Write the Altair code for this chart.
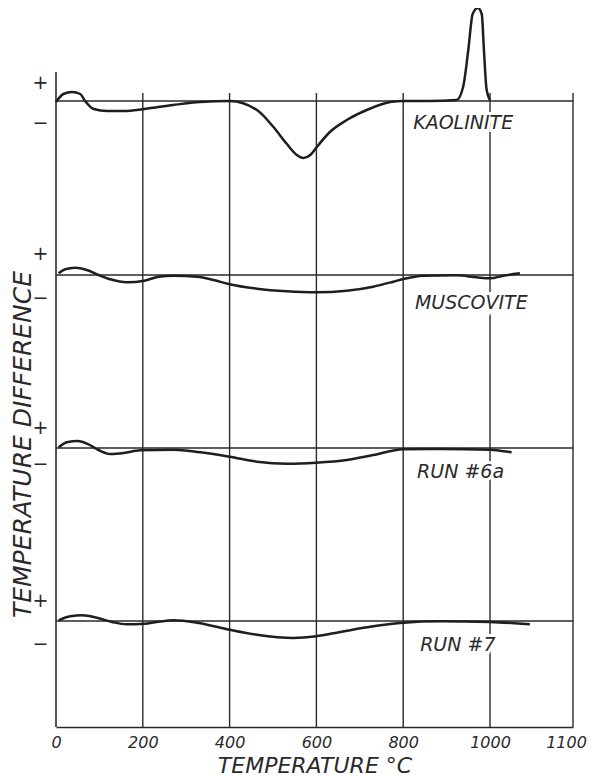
import altair as alt
import pandas as pd

# ---------------- data ----------------
curve_names = ["KAOLINITE", "MUSCOVITE", "RUN #6a", "RUN #7"]
# vertical position (arbitrary units) of each curve's zero line
baselines = [626, 452, 279, 106]

kaolinite_t = [0, 17, 37, 56, 67, 87, 117, 156, 204, 270, 332, 400, 463, 501, 532, 555, 570,
               586, 601, 631, 670, 716, 770, 800, 860, 923, 938, 950, 960, 972, 981, 986, 992, 1000]
kaolinite_d = [-1, 7, 9, 7, 0, -8, -10, -10, -8, -4, -1, 0, -9, -26, -43, -54, -57,
               -54, -46, -31, -19, -9, -1, 0, 0, 1, 14, 51, 87, 93, 87, 51, 12, 1]

muscovite_t = [6, 21, 44, 71, 98, 125, 163, 204, 236, 271, 325, 363, 400, 463, 532, 599, 670,
               731, 777, 800, 846, 923, 969, 1000, 1016, 1036]
muscovite_d = [1.7, 5.7, 7.3, 5, 0, -4.3, -7.3, -5.7, -1.7, -0.7, -1.7, -5, -9.3, -13.7, -16.3,
               -17.3, -15.7, -11.7, -6.7, -4, -0.7, -0.3, -2.3, -3.3, -0.7, 1.7]

run6a_t = [6, 25, 50, 75, 98, 125, 156, 194, 271, 332, 400, 463, 532, 599, 670, 731, 800, 885,
           1000, 1026]
run6a_d = [0.7, 5.7, 7, 3.7, -2, -6, -5, -2.3, -1.7, -4.3, -8.7, -13.7, -15.7, -14.7, -12, -7,
           -1.3, -1, -1.7, -4.3]

run7_t = [6, 33, 60, 94, 129, 163, 204, 232, 271, 325, 400, 463, 547, 599, 655, 731, 800, 885,
          1000, 1048]
run7_d = [0.7, 4.7, 5.7, 3.3, -1, -3.3, -2.7, -1, 0.7, -1.7, -8.7, -13.7, -17, -15.3, -11,
          -5.3, -1.7, -0.3, -1, -3.3]

# label anchors (temperature, offset below the zero line)
label_t = [823, 827, 832, 839]
label_d = [-22, -28, -24, -24]

# "+" / "-" marks on the left side
plus_marks = [645, 474, 300, 127]
minus_marks = [605, 430, 264, 84]

tick_values = [0, 200, 400, 600, 800, 1000, 1100]
grid_values = [200, 400, 600, 800, 1000, 1100]
grid_top = 634
frame_top = 655

# ---------------- tables ----------------
series = [(kaolinite_t, kaolinite_d), (muscovite_t, muscovite_d),
          (run6a_t, run6a_d), (run7_t, run7_d)]
rows = []
for name, base, (ts, ds) in zip(curve_names, baselines, series):
    for t, d in zip(ts, ds):
        rows.append({"curve": name, "T": t, "v": base + d})
curves = pd.DataFrame(rows)

base_df = pd.DataFrame({"curve": curve_names, "v": baselines})
labels_df = pd.DataFrame({"curve": curve_names,
                          "T": label_t,
                          "v": [b + d for b, d in zip(baselines, label_d)]})
grid_df = pd.DataFrame({"T": grid_values})

INK = "#2a2a2a"
FONT = "DejaVu Sans"

xs = alt.Scale(domain=[0, 1000, 1100], range=[0, 434, 517], nice=False, zero=False)
ys = alt.Scale(domain=[0, 719], nice=False, zero=False)

plus_js = ",".join(str(v) for v in plus_marks)
xaxis = alt.Axis(values=tick_values, format="d", title="TEMPERATURE °C", ticks=False,
                 grid=False, domain=True, domainColor=INK, domainWidth=1.6,
                 labelFont=FONT, labelFontStyle="italic", labelFontSize=16, labelColor=INK,
                 labelPadding=7, labelFlush=False, labelOverlap=False,
                 labelOffset={"condition": {"test": "datum.value == 1100", "value": -7},
                              "value": 0},
                 titleFont=FONT, titleFontStyle="italic", titleFontWeight="normal",
                 titleFontSize=22, titleColor=INK, titlePadding=5)
yaxis = alt.Axis(values=plus_marks + minus_marks, title="TEMPERATURE DIFFERENCE",
                 ticks=False, grid=False, domain=False,
                 labelExpr=f"indexof([{plus_js}], datum.value) >= 0 ? '+' : '−'",
                 labelFont=FONT, labelFontSize=19, labelColor=INK, labelPadding=8,
                 titleFont=FONT, titleFontStyle="italic", titleFontWeight="normal",
                 titleFontSize=25, titleColor=INK, titleAngle=270,
                 titleX=-34, titleY=436, titleAlign="center", titleBaseline="middle")

grid = alt.Chart(grid_df).mark_rule(color=INK, strokeWidth=1.4).encode(
    x=alt.X("T:Q", scale=xs, axis=xaxis),
    y=alt.Y(datum=grid_top, scale=ys, axis=yaxis),
    y2=alt.Y2(datum=0),
)

frame = alt.Chart(pd.DataFrame({"T": [0]})).mark_rule(color=INK, strokeWidth=1.6).encode(
    x=alt.X("T:Q", scale=xs, axis=xaxis),
    y=alt.Y(datum=frame_top, scale=ys, axis=yaxis),
    y2=alt.Y2(datum=0),
)

zero_lines = alt.Chart(base_df).mark_rule(color=INK, strokeWidth=1.4).encode(
    x=alt.X(datum=0, scale=xs, axis=xaxis),
    x2=alt.X2(datum=1100),
    y=alt.Y("v:Q", scale=ys, axis=yaxis),
)

lines = alt.Chart(curves).mark_line(color="#1e1e1e", strokeWidth=2.5,
                                    interpolate="monotone").encode(
    x=alt.X("T:Q", scale=xs, axis=xaxis),
    y=alt.Y("v:Q", scale=ys, axis=yaxis),
    detail="curve:N",
)

halo = alt.Chart(labels_df).mark_text(align="left", baseline="middle", font=FONT,
                                      fontStyle="italic", fontSize=19, fill="white",
                                      stroke="white", strokeWidth=6).encode(
    x=alt.X("T:Q", scale=xs, axis=xaxis),
    y=alt.Y("v:Q", scale=ys, axis=yaxis),
    text="curve:N",
)
text = alt.Chart(labels_df).mark_text(align="left", baseline="middle", font=FONT,
                                      fontStyle="italic", fontSize=19, color=INK).encode(
    x=alt.X("T:Q", scale=xs, axis=xaxis),
    y=alt.Y("v:Q", scale=ys, axis=yaxis),
    text="curve:N",
)

chart = alt.layer(grid, frame, zero_lines, lines, halo, text).properties(
    width=517, height=719,
    padding={"left": 48, "top": 0, "right": 14, "bottom": 49},
    autosize=alt.AutoSizeParams(type="none"),
    background="white",
).configure_view(stroke=None)

chart.save("out.html", embed_options={"renderer": "svg", "actions": False})
